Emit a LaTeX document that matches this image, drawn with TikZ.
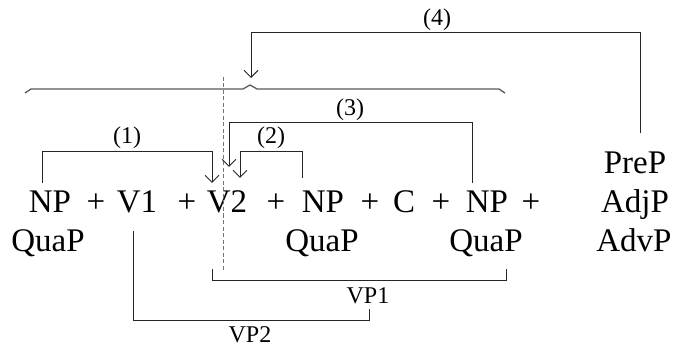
\documentclass[tikz,border=0pt]{standalone}
\usepackage{fontspec}
\setmainfont{Liberation Serif}
\usetikzlibrary{arrows.meta,calc}
\begin{document}
\begin{tikzpicture}[x=1pt,y=-1pt,
  big/.style={font=\fontsize{33}{38}\selectfont,inner sep=0pt,anchor=base},
  small/.style={font=\fontsize{24}{28}\selectfont,inner sep=0pt,anchor=base},
  conn/.style={draw=black!85,line width=0.9pt},
  arr/.style={conn,-{Straight Barb[length=7pt,width=14pt,line width=0.9pt]}},
  bracebar/.style={draw=black!65,line width=1.3pt,line join=round},
  guide/.style={draw=black!55,line width=0.9pt,dash pattern=on 4pt off 2.5pt}]
\useasboundingbox (0,0) rectangle (676,347);
% main row
\node[big] (np1) at (50,212) {NP};
\node[big] (p1) at (96,212) {+};
\node[big] (v1) at (137,212) {V1};
\node[big] (p2) at (187,212) {+};
\node[big] (v2) at (227,212) {V2};
\node[big] (p3) at (276,212) {+};
\node[big] (np2) at (323,212) {NP};
\node[big] (p4) at (370,212) {+};
\node[big] (c) at (404,212) {C};
\node[big] (p5) at (441,212) {+};
\node[big] (np3) at (487,212) {NP};
\node[big] (p6) at (531,212) {+};
% second row
\node[big] (q1) at (48,251) {QuaP};
\node[big] (q2) at (322,251) {QuaP};
\node[big] (q3) at (486,251) {QuaP};
% right column
\node[big] (prep) at (635,174) {PreP};
\node[big] (adjp) at (635,212) {AdjP};
\node[big] (advp) at (634,251) {AdvP};
% labels
\node[small] (l1) at (127,144) {(1)};
\node[small] (l2) at (271,144) {(2)};
\node[small] (l3) at (350,116) {(3)};
\node[small] (l4) at (437,26) {(4)};
\node[small] (vp1) at (368,303) {VP1};
\node[small] (vp2) at (250,342) {VP2};
% brace
\coordinate (bt) at (250,85);
\draw[bracebar] (25,93) -- (31,89) -- (243,89) -- (bt) -- (257,89) -- (499,89) -- (505,93);
% dashed guide
\coordinate (gtop) at (223,77);
\coordinate (gbot) at (223,270);
\draw[guide] (gtop) -- (gbot);
% arrows
\draw[arr] ($(np1.north)+(-8,-7)$) -- ++(0,-32) -| ($(v2.north)+(-15,-7)$);
\draw[arr] ($(np2.north)+(-21,-12)$) -- ++(0,-27) -| ($(v2.north)+(13,-12)$);
\draw[arr] ($(np3.north)+(-15,-7)$) -- ++(0,-61) -| ($(v2.north)+(2,-23)$);
\draw[arr] ($(prep.north)+(5,-19)$) -- ++(0,-101) -| ($(bt)+(1,-7)$);
% bottom brackets
\coordinate (b1l) at (212,269);
\coordinate (b1r) at (506,269);
\draw[conn] (b1l) -- ++(0,11) -| (b1r);
\draw[conn] ($(v1.south)+(-4,18)$) -- (133,320) -| ($(vp1.south)+(1,5)$);
\end{tikzpicture}
\end{document}
